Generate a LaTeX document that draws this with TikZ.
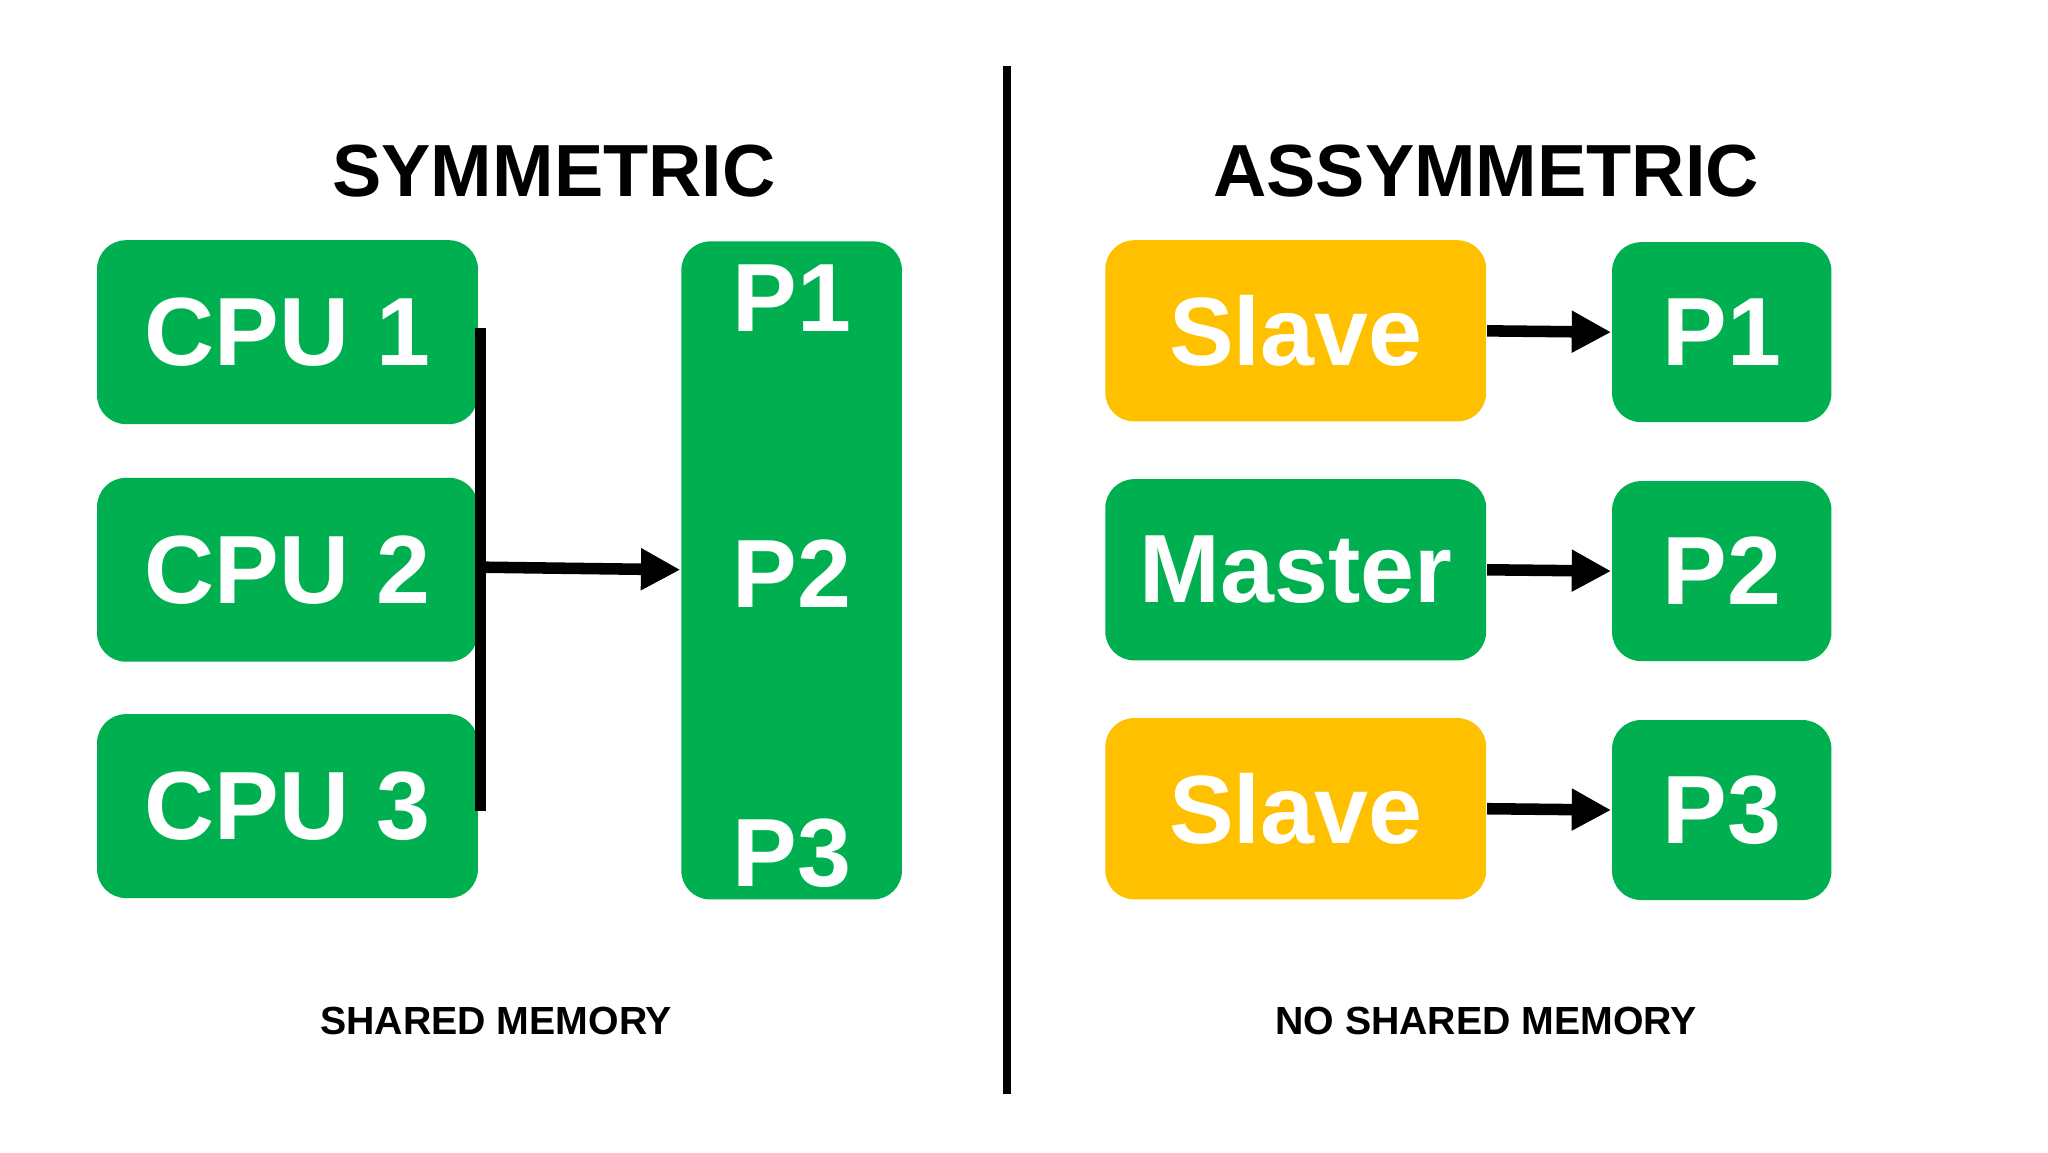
\documentclass[tikz,border=0pt]{standalone}
\usepackage{fontspec}
\setmainfont{Liberation Sans}
\usetikzlibrary{arrows.meta}
\definecolor{gr}{HTML}{00B050}
\definecolor{yl}{HTML}{FFC000}
\begin{document}
\begin{tikzpicture}[x=0.01cm,y=-0.01cm,
 box/.style={rounded corners=0.22cm,inner sep=0,font=\bfseries\fontsize{21}{24}\selectfont,text=white},
 ttl/.style={font=\bfseries\fontsize{16}{19}\selectfont},
 sub/.style={font=\bfseries\fontsize{8.5}{10}\selectfont},
 arr/.style={line width=2.5pt,-{Triangle[length=0.3cm,width=0.3cm]}}]
\useasboundingbox (0,0) rectangle (1560,877.5);
\draw[line width=1.6pt] (767,50) -- (767,833);
\node[ttl] (t1) at (422,130) {SYMMETRIC};
\node[ttl] (t2) at (1132,130) {ASSYMMETRIC};
\node[sub] (s1) at (378,778) {SHARED MEMORY};
\node[sub] (s2) at (1132,778) {NO SHARED MEMORY};
\foreach \n/\y/\t in {c1/253/CPU 1,c2/434/CPU 2,c3/614/CPU 3}
  \node[box,fill=gr,minimum width=2.9cm,minimum height=1.4cm] (\n) at (219,\y) {\t};
\node[box,fill=gr,minimum width=1.68cm,minimum height=5.01cm] (big) at (603,434.5) {};
\node[box] (p1) at (603,227) {P1};
\node[box] (p2) at (603,437) {P2};
\node[box] (p3) at (603,650) {P3};
\coordinate (bt) at (366,250); \coordinate (bb) at (366,618);
\draw[line width=2.5pt] (bt) -- (bb);
\coordinate (bm) at (366,432);
\draw[arr] (bm) -- (big.west |- 0,434);
\foreach \n/\y/\t/\c/\q in {a/252/Slave/yl/P1,b/434/Master/gr/P2,c/616/Slave/yl/P3}{
  \node[box,fill=\c,minimum width=2.9cm,minimum height=1.38cm] (l\n) at (987,\y) {\t};
  \node[box,fill=gr,minimum width=1.67cm,minimum height=1.37cm] (r\n) at (1311.5,\y+1) {\q};
  \draw[arr] (l\n.east) -- (r\n.west);
}
\end{tikzpicture}
\end{document}
